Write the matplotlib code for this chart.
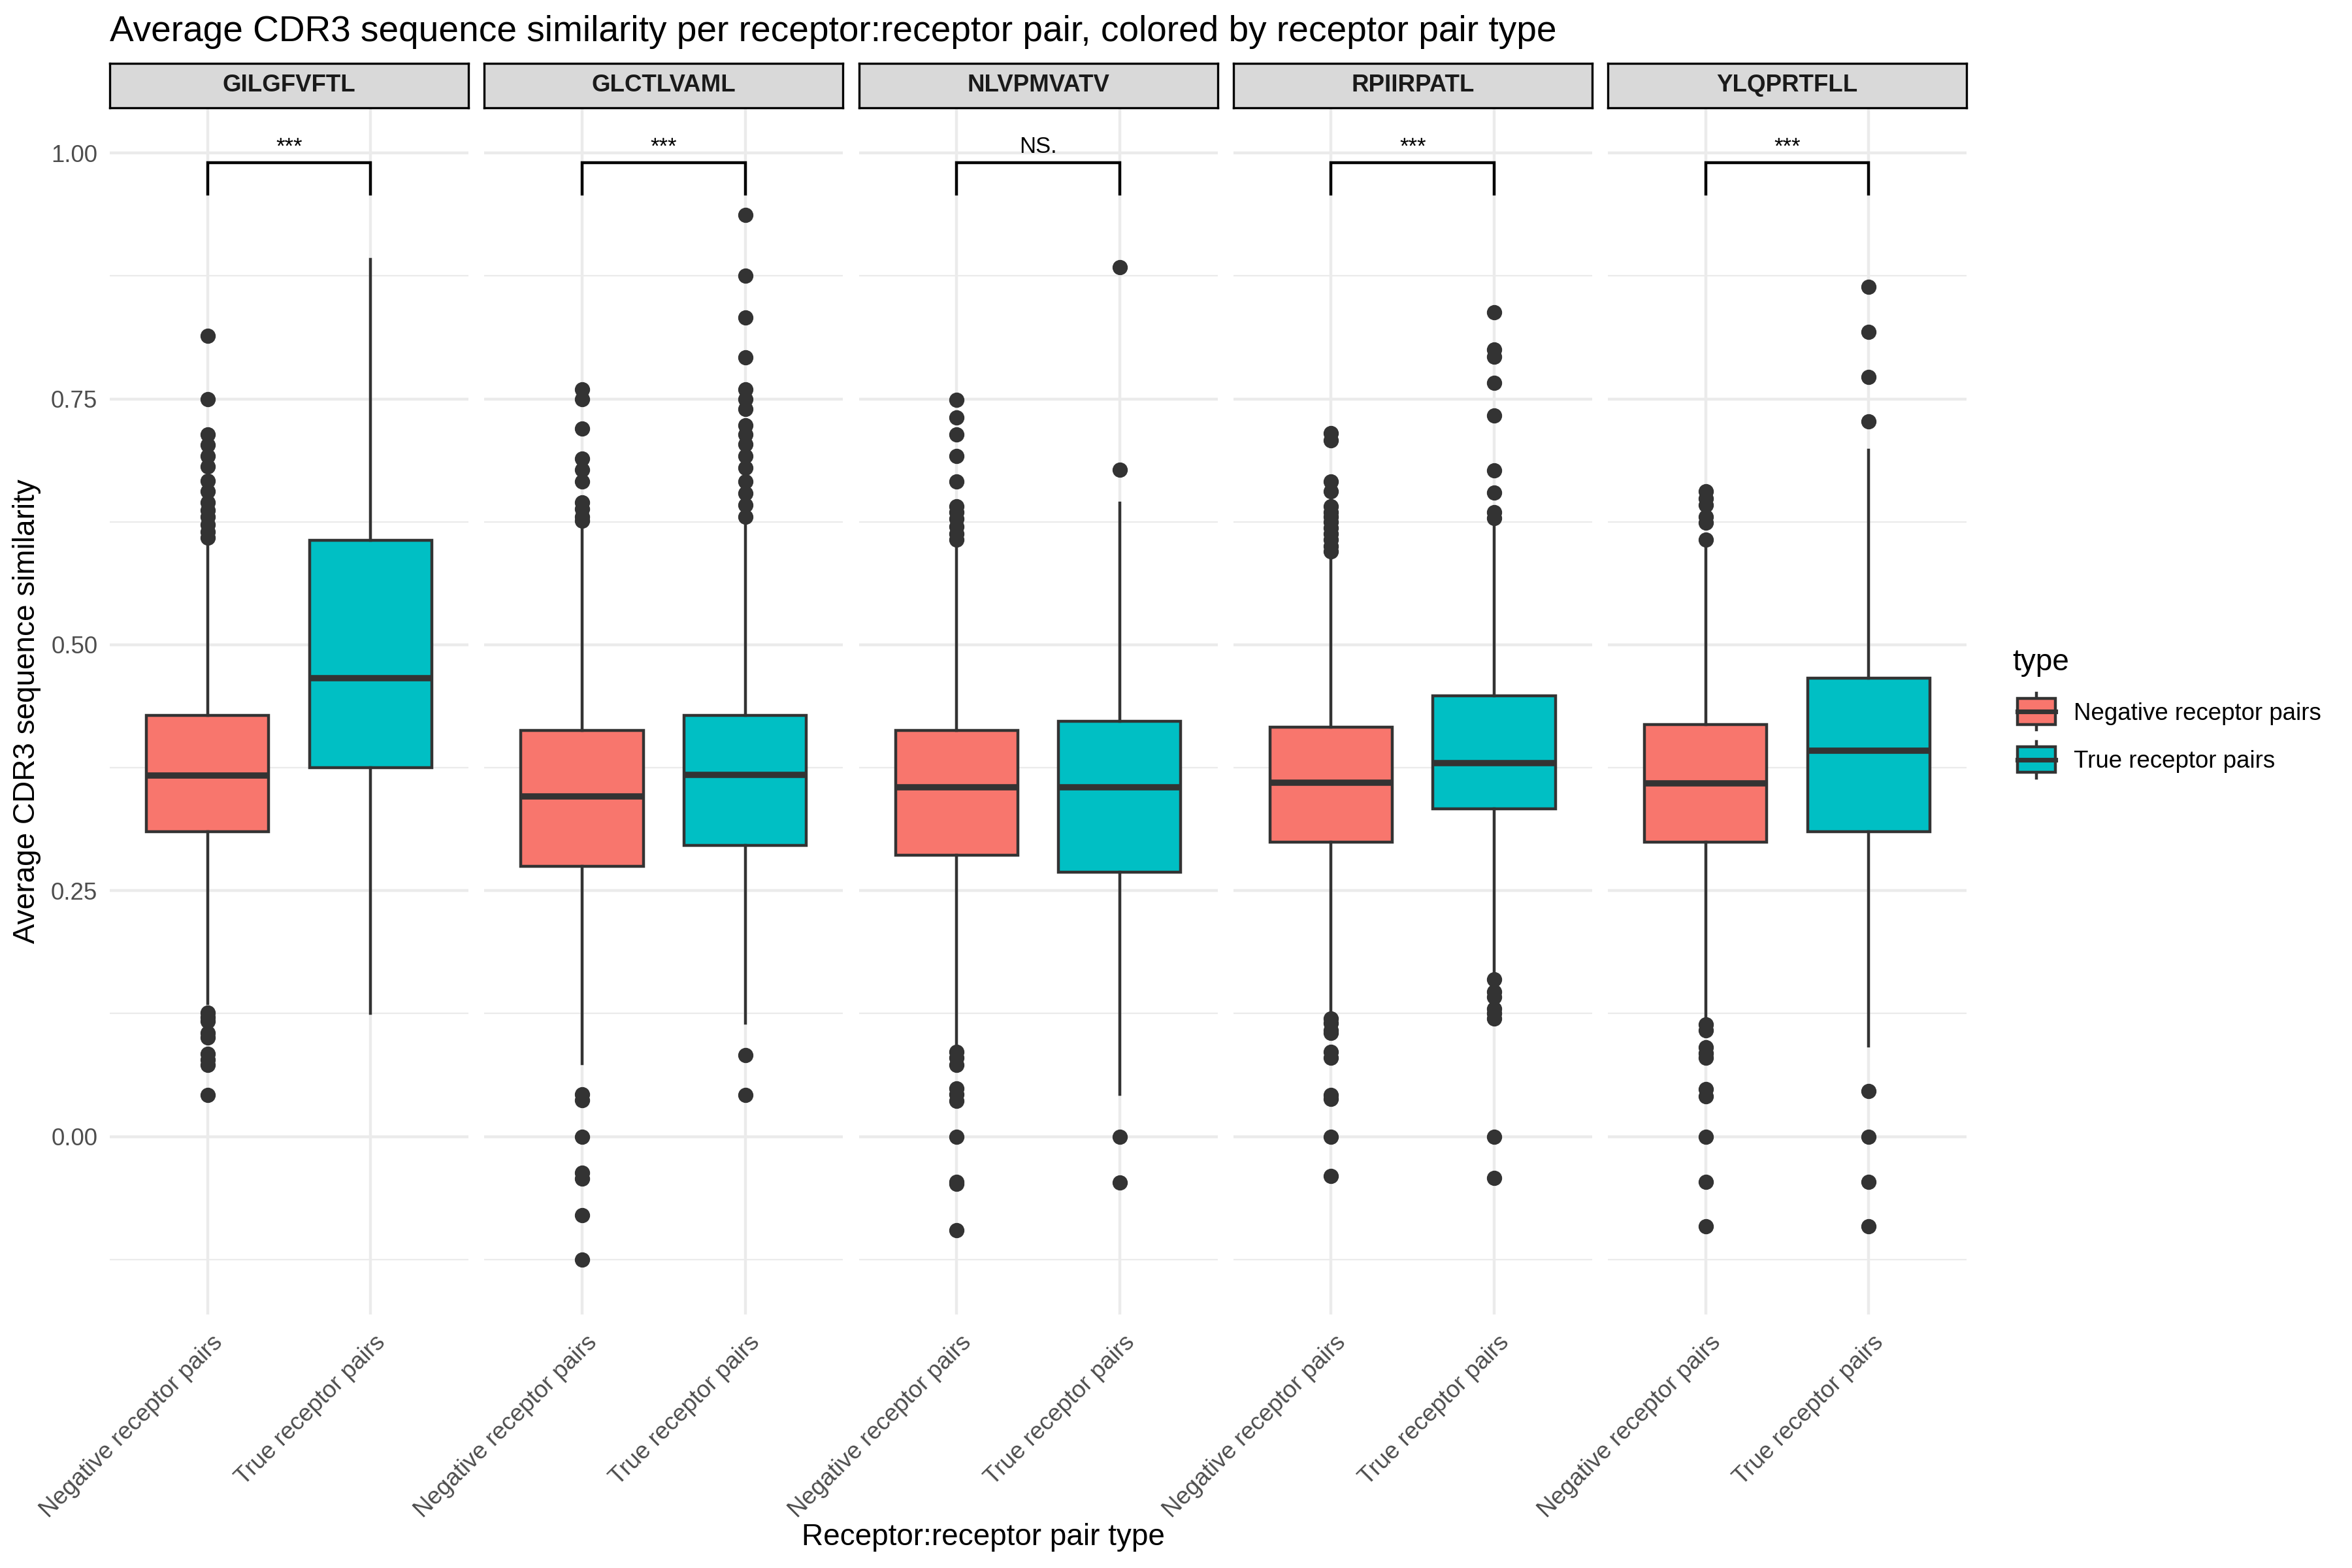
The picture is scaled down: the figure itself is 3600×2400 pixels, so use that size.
import matplotlib
matplotlib.use("Agg")
import matplotlib.pyplot as plt
from matplotlib.patches import Rectangle
from matplotlib.lines import Line2D
from matplotlib.legend_handler import HandlerBase
from matplotlib.transforms import ScaledTranslation

plt.rcParams['font.family'] = ['Liberation Sans', 'DejaVu Sans']

# ---------------- data ----------------
epitopes = ["GILGFVFTL", "GLCTLVAML", "NLVPMVATV", "RPIIRPATL", "YLQPRTFLL"]
types = ["Negative receptor pairs", "True receptor pairs"]
sig_labels = ["***", "***", "NS.", "***", "***"]

# box statistics per epitope: [negative, true]
q1 = [[0.310, 0.375], [0.275, 0.296], [0.286, 0.269], [0.299, 0.333], [0.299, 0.310]]
med = [[0.367, 0.466], [0.346, 0.368], [0.355, 0.355], [0.360, 0.380], [0.359, 0.392]]
q3 = [[0.428, 0.606], [0.413, 0.428], [0.413, 0.422], [0.416, 0.448], [0.419, 0.466]]
whislo = [[0.135, 0.125], [0.074, 0.115], [0.092, 0.043], [0.124, 0.165], [0.118, 0.092]]
whishi = [[0.605, 0.892], [0.620, 0.625], [0.605, 0.644], [0.590, 0.620], [0.601, 0.698]]

fliers = [
    [[0.814, 0.750, 0.714, 0.703, 0.692, 0.681, 0.667, 0.656, 0.645, 0.637, 0.630,
      0.622, 0.615, 0.609, 0.126, 0.121, 0.117, 0.105, 0.101, 0.084, 0.078, 0.073, 0.042],
     []],
    [[0.760, 0.750, 0.720, 0.689, 0.678, 0.666, 0.645, 0.638, 0.630, 0.626,
      0.043, 0.037, 0.0, -0.037, -0.043, -0.080, -0.125],
     [0.937, 0.875, 0.833, 0.792, 0.760, 0.750, 0.740, 0.723, 0.714, 0.704, 0.692,
      0.680, 0.666, 0.654, 0.642, 0.630, 0.083, 0.042]],
    [[0.749, 0.731, 0.714, 0.692, 0.666, 0.641, 0.635, 0.628, 0.620, 0.613, 0.607,
      0.086, 0.080, 0.073, 0.049, 0.043, 0.036, 0.0, -0.046, -0.048, -0.095],
     [0.884, 0.678, 0.0, -0.047]],
    [[0.715, 0.708, 0.666, 0.656, 0.641, 0.635, 0.630, 0.625, 0.619, 0.613, 0.607,
      0.600, 0.595, 0.120, 0.115, 0.108, 0.105, 0.086, 0.080, 0.042, 0.038, 0.0, -0.040],
     [0.838, 0.800, 0.793, 0.766, 0.733, 0.677, 0.655, 0.635, 0.629,
      0.160, 0.147, 0.142, 0.130, 0.125, 0.120, 0.0, -0.042]],
    [[0.656, 0.649, 0.642, 0.630, 0.624, 0.607, 0.114, 0.108, 0.091, 0.085, 0.080,
      0.048, 0.041, 0.0, -0.046, -0.091],
     [0.864, 0.818, 0.772, 0.727, 0.046, 0.0, -0.046, -0.091]],
]

colors = ["#F8766D", "#00BFC4"]
ytick_vals = [0.0, 0.25, 0.50, 0.75, 1.00]
ytick_labels = ["0.00", "0.25", "0.50", "0.75", "1.00"]
yminor = [-0.125, 0.125, 0.375, 0.625, 0.875]

# ---------------- layout ----------------
W, H = 3600, 2400
DPI = 300
fig = plt.figure(figsize=(12, 8), dpi=DPI)

panel_left = 168
panel_w = 549
panel_step = 573.25
panel_top = 165
panel_bottom = 2012
strip_top = 97

edge = "#333333"
grid_col = "#EBEBEB"
txt_col = "#4D4D4D"
lw_box = 1.07

axes = []
for i, ep in enumerate(epitopes):
    x0 = panel_left + i * panel_step
    ax = fig.add_axes([x0 / W, 1 - panel_bottom / H, panel_w / W, (panel_bottom - panel_top) / H])
    ax.set_xlim(0.4, 2.6)
    ax.set_ylim(-0.181, 1.046)
    for s in ax.spines.values():
        s.set_visible(False)
    # grid
    for y in ytick_vals:
        ax.axhline(y, color=grid_col, lw=1.07, zorder=0)
    for y in yminor:
        ax.axhline(y, color=grid_col, lw=0.53, zorder=0)
    for x in [1, 2]:
        ax.axvline(x, color=grid_col, lw=1.07, zorder=0)

    stats = []
    for j in range(2):
        stats.append(dict(med=med[i][j], q1=q1[i][j], q3=q3[i][j],
                          whislo=whislo[i][j], whishi=whishi[i][j],
                          fliers=fliers[i][j], label=types[j]))
    bp = ax.bxp(stats, positions=[1, 2], widths=0.75, patch_artist=True,
                showcaps=False, manage_ticks=False,
                boxprops=dict(edgecolor=edge, linewidth=lw_box),
                whiskerprops=dict(color=edge, linewidth=lw_box),
                medianprops=dict(color=edge, linewidth=2.3, solid_capstyle='butt'),
                flierprops=dict(marker='o', markerfacecolor=edge, markeredgecolor=edge,
                                markersize=4.6, linestyle='none'))
    for patch, c in zip(bp['boxes'], colors):
        patch.set_facecolor(c)
    for ln in bp['medians']:
        ln.set_zorder(3)

    # significance bracket
    ax.plot([1, 1, 2, 2], [0.958, 0.990, 0.990, 0.958], color='black', lw=1.07,
            solid_joinstyle='miter', zorder=4)
    ax.text(1.5, 1.0, sig_labels[i], ha='center', va='baseline', fontsize=8.3, color='black')

    ax.set_xticks([1, 2])
    ax.set_xticklabels(types, rotation=45, ha='right', va='top', rotation_mode='anchor',
                       fontsize=8.8, color=txt_col)
    ax.set_yticks(ytick_vals)
    if i == 0:
        ax.set_yticklabels(ytick_labels, fontsize=8.8, color=txt_col)
    else:
        ax.set_yticklabels([])
    ax.tick_params(length=0, pad=4.5)
    ax.tick_params(axis='x', pad=6.0)
    shift = ScaledTranslation(5 / DPI, 0, fig.dpi_scale_trans)
    for lab in ax.get_xticklabels():
        lab.set_transform(lab.get_transform() + shift)

    # strip
    sax = fig.add_axes([x0 / W, 1 - panel_top / H, panel_w / W, (panel_top - strip_top) / H])
    sax.set_facecolor("#D9D9D9")
    sax.set_xticks([])
    sax.set_yticks([])
    for s in sax.spines.values():
        s.set_color('black')
        s.set_linewidth(0.8)
    sax.text(0.5, 0.5, ep, ha='center', va='center', fontsize=8.8, fontweight='bold',
             color='#1A1A1A', transform=sax.transAxes)
    axes.append(ax)

# titles
fig.text(panel_left / W, 1 - 63 / H, "Average CDR3 sequence similarity per receptor:receptor pair, colored by receptor pair type",
         ha='left', va='baseline', fontsize=13.2, color='black')
fig.text((panel_left + 4 * panel_step + panel_w) / 2 / W, 1 - 2353 / H,
         "Receptor:receptor pair type", ha='center', va='center', fontsize=11, color='black')
fig.text(41 / W, 1 - (panel_top + panel_bottom) / 2 / H, "Average CDR3 sequence similarity",
         ha='center', va='center', rotation=90, fontsize=11, color='black')


# legend with boxplot key glyphs (sizes in points)
class BoxKey(HandlerBase):
    def create_artists(self, legend, orig_handle, xdescent, ydescent, width, height, fontsize, trans):
        x0, y0 = -xdescent, -ydescent
        cx = x0 + width / 2
        cy = y0 + height / 2
        bh = 4.7   # half box height
        wh = 6.7   # whisker extent
        bw = 13.9  # box width
        c = orig_handle.get_color()
        arts = [
            Line2D([cx, cx], [cy + bh, cy + wh], color=edge, lw=lw_box, transform=trans),
            Line2D([cx, cx], [cy - wh, cy - bh], color=edge, lw=lw_box, transform=trans),
            Rectangle((cx - bw / 2, cy - bh), bw, 2 * bh, facecolor=c, edgecolor=edge,
                      lw=lw_box, transform=trans),
            Line2D([cx - bw / 2, cx + bw / 2], [cy, cy], color=edge, lw=lw_box * 1.6,
                   transform=trans),
        ]
        return arts


handles = [Line2D([], [], color=c) for c in colors]
leg = fig.legend(handles, types, loc='upper left', bbox_to_anchor=(3080 / W, 1 - 992 / H),
                 frameon=False, fontsize=8.8, title="type", title_fontsize=11,
                 handler_map={Line2D: BoxKey()}, handlelength=2.0, handleheight=1.0,
                 labelspacing=1.0, handletextpad=0.55, borderpad=0, borderaxespad=0,
                 alignment='left')

fig.savefig("out.png", dpi=DPI, facecolor='white')
